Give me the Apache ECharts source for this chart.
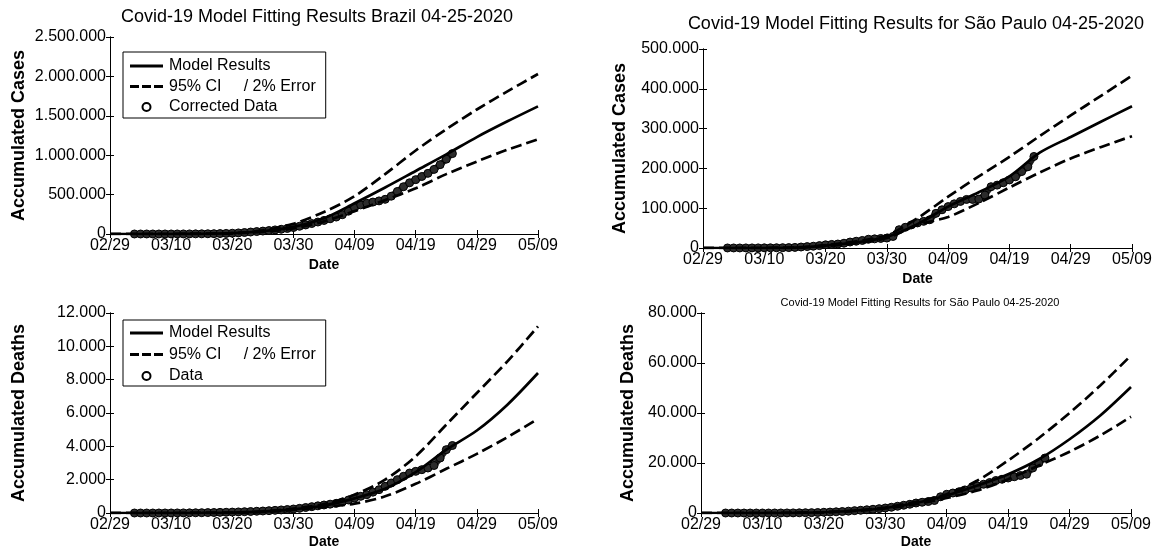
<!DOCTYPE html>
<html>
<head>
<meta charset="utf-8">
<script src="https://cdn.jsdelivr.net/npm/echarts@6/dist/echarts.min.js"></script>
<style>html,body{margin:0;padding:0;background:#fff}#c{width:1157px;height:555px}</style>
</head>
<body>
<div id="c"></div>
<script>
// ---------- DATA ----------
const xTickLabels = ['02/29','03/10','03/20','03/30','04/09','04/19','04/29','05/09']; // days 0,10,...,70 from 02/29
const modelDays = [0,5,10,15,20,25,30,35,40,45,50,55,60,65,70];

// Brazil - accumulated cases
const brCasesModel = [0,0,0,2000,10000,35000,90000,200000,390000,590000,800000,1010000,1230000,1430000,1620000];
const brCasesUpper = [0,0,0,2500,12000,45000,130000,280000,480000,760000,1060000,1330000,1580000,1810000,2030000];
const brCasesLower = [0,0,0,1500,8000,28000,70000,160000,290000,430000,580000,760000,920000,1070000,1200000];
const brCasesDataStart = 4;
const brCasesData = [100,100,200,200,300,400,500,700,900,1200,1600,2200,3000,4000,5500,7500,10000,14000,19000,25000,31000,37000,44000,52000,60000,70000,82000,98000,115000,133000,152000,172000,193000,215000,245000,290000,335000,370000,390000,405000,420000,440000,480000,540000,600000,650000,690000,730000,770000,820000,880000,950000,1020000];

// São Paulo - accumulated cases
const spCasesModel = [0,0,0,1000,6000,14000,28000,60000,104000,140000,180000,240000,279000,318000,356000];
const spCasesUpper = [0,0,0,1200,7000,17000,32000,75000,129000,180000,229000,282000,333000,383000,433000];
const spCasesLower = [0,0,0,800,5000,12000,25000,58000,78000,113000,152000,190000,225000,254000,281000];
const spCasesDataStart = 4;
const spCasesData = [100,100,100,200,200,300,400,500,600,800,1000,1500,2500,3500,4500,6000,8000,9000,10000,12000,15000,17000,19000,22000,23000,24000,25000,29000,46000,52000,58000,63000,67000,71000,87000,96000,104000,111000,117000,122000,122000,123000,133000,154000,158000,164000,171000,179000,192000,204000,230000];

// Brazil - accumulated deaths
const brDeathsModel = [0,0,0,5,20,80,220,450,880,1450,2450,3800,4950,6500,8400];
const brDeathsUpper = [0,0,0,6,25,100,260,540,1100,2000,3400,5300,7200,9100,11200];
const brDeathsLower = [0,0,0,4,15,60,180,360,560,1000,1750,2650,3550,4550,5650];
const brDeathsDataStart = 4;
const brDeathsData = [0,0,0,0,1,2,3,5,7,10,14,18,25,30,38,45,55,65,78,90,105,120,140,160,185,210,240,280,330,380,430,480,530,580,660,780,900,1000,1100,1250,1400,1600,1800,2000,2200,2400,2500,2600,2700,2850,3300,3800,4050];

// São Paulo - accumulated deaths
const spDeathsModel = [0,0,0,50,300,900,2000,4000,7000,11000,15500,21500,29500,39000,50400];
const spDeathsUpper = [0,0,0,60,350,1000,2200,4500,7500,13000,21000,30000,40000,51000,63000];
const spDeathsLower = [0,0,0,40,250,800,1800,3500,6000,9000,13500,19000,24500,31000,38500];
const spDeathsDataStart = 4;
const spDeathsData = [0,0,0,0,0,0,0,0,10,20,30,50,80,110,150,200,300,380,480,600,750,950,1100,1300,1500,1750,2000,2300,2700,3100,3500,4000,4300,4600,5000,6500,7500,8000,8500,9200,10000,10800,11500,12200,13000,13500,14000,14500,15000,15500,18000,20000,22000];

const titles = ['Covid-19 Model Fitting Results Brazil 04-25-2020', 'Covid-19 Model Fitting Results for São Paulo 04-25-2020', 'Covid-19 Model Fitting Results for São Paulo 04-25-2020'];
const yNames = ['Accumulated Cases', 'Accumulated Cases', 'Accumulated Deaths', 'Accumulated Deaths'];
const yMax = [2500000, 500000, 12000, 80000];
const yInterval = [500000, 100000, 2000, 20000];
const nameModel = 'Model Results';
const nameCI = '95% CI     / 2% Error';
const dataNames = ['Corrected Data', 'Corrected Data', 'Data', 'Data'];

// ---------- BUILD ----------
const FONT = '"Liberation Sans", Arial, sans-serif';
const fmtY = v => String(v).replace(/\B(?=(\d{3})+(?!\d))/g, '.');
const pair = (days, vals) => vals.map((v, i) => [days[i], v]);
const dataPairs = (start, vals) => vals.map((v, i) => [start + i, v]);

const panels = [
  {model: brCasesModel, up: brCasesUpper, lo: brCasesLower, start: brCasesDataStart, data: brCasesData},
  {model: spCasesModel, up: spCasesUpper, lo: spCasesLower, start: spCasesDataStart, data: spCasesData},
  {model: brDeathsModel, up: brDeathsUpper, lo: brDeathsLower, start: brDeathsDataStart, data: brDeathsData},
  {model: spDeathsModel, up: spDeathsUpper, lo: spDeathsLower, start: spDeathsDataStart, data: spDeathsData}
];

const grids = [
  {left: 110, top: 37, width: 428, height: 197},
  {left: 703, top: 49, width: 429, height: 199},
  {left: 110, top: 313, width: 428, height: 200},
  {left: 701, top: 313, width: 430, height: 200}
];
const yNameGap = [82, 74, 82, 64];
const dateGap = [24, 24, 22, 22];

const xAxes = [], yAxes = [], series = [];
const axisLine = {show: true, lineStyle: {color: '#000', width: 1}};
panels.forEach((p, g) => {
  xAxes.push({
    gridIndex: g, type: 'value', min: 0, max: 70, interval: 10, position: 'bottom',
    name: 'Date', nameLocation: 'middle', nameGap: dateGap[g],
    nameTextStyle: {fontFamily: FONT, fontWeight: 'bold', fontSize: 14, color: '#000'},
    axisLine: axisLine, axisTick: {inside: true, length: 4, lineStyle: {color: '#000'}},
    axisLabel: {fontFamily: FONT, fontSize: 16, color: '#000', margin: 4, formatter: v => xTickLabels[Math.round(v / 10)]},
    splitLine: {show: false}
  });
  xAxes.push({
    gridIndex: g, type: 'value', min: 0, max: 70, interval: 10, position: 'top',
    axisLine: axisLine, axisTick: {inside: true, length: 4, lineStyle: {color: '#000'}},
    axisLabel: {show: false}, splitLine: {show: false}
  });
  yAxes.push({
    gridIndex: g, type: 'value', min: 0, max: yMax[g], interval: yInterval[g], position: 'left',
    name: yNames[g], nameLocation: 'middle', nameGap: yNameGap[g],
    nameTextStyle: {fontFamily: FONT, fontWeight: 'bold', fontSize: 18, color: '#000'},
    axisLine: axisLine, axisTick: {show: true, inside: true, length: 4, lineStyle: {color: '#000'}},
    axisLabel: {fontFamily: FONT, fontSize: 16, color: '#000', margin: 4, formatter: fmtY},
    splitLine: {show: false}
  });
  yAxes.push({
    gridIndex: g, type: 'value', min: 0, max: yMax[g], interval: yInterval[g], position: 'right',
    axisLine: axisLine, axisTick: {show: true, inside: true, length: 4, lineStyle: {color: '#000'}},
    axisLabel: {show: false}, splitLine: {show: false}
  });
  const xi = g * 2, yi = g * 2;
  series.push({
    name: dataNames[g], type: 'line', xAxisIndex: xi, yAxisIndex: yi,
    symbol: 'circle', symbolSize: 8, showAllSymbol: true,
    lineStyle: {color: '#1e1e1e', width: 6},
    itemStyle: {color: '#2b2b2b', borderColor: '#000', borderWidth: 1},
    data: dataPairs(p.start, p.data), silent: true, z: 2
  });
  series.push({
    name: nameModel, type: 'line', xAxisIndex: xi, yAxisIndex: yi, symbol: 'none',
    smooth: 0.3,
    itemStyle: {color: '#000'},
    lineStyle: {color: '#000', width: 2.7, type: 'solid'},
    data: pair(modelDays, p.model), silent: true, z: 3
  });
  [p.up, p.lo].forEach(arr => series.push({
    name: nameCI, type: 'line', xAxisIndex: xi, yAxisIndex: yi, symbol: 'none',
    smooth: 0.3,
    itemStyle: {color: '#000'},
    lineStyle: {color: '#000', width: 2.7, type: [11, 5]},
    data: pair(modelDays, arr), silent: true, z: 3
  }));
});

const solidIcon = 'path://M0,0h33v3h-33z';
const dashIcon = 'path://M0,0h9v3h-9z M12,0h9v3h-9z M24,0h9v3h-9z';
const legendBase = {
  orient: 'vertical', backgroundColor: '#fff', borderColor: '#000', borderWidth: 1,
  itemWidth: 33, itemHeight: 8, symbolKeepAspect: true,
  textStyle: {fontFamily: FONT, fontSize: 16, color: '#000', padding: [0, 0, 0, 1]},
  selectedMode: false, z: 10
};
const legendData = dn => [
  {name: nameModel, icon: solidIcon, itemStyle: {color: '#000'}},
  {name: nameCI, icon: dashIcon, itemStyle: {color: '#000'}},
  {name: dn, icon: 'emptyCircle', itemStyle: {color: '#000', borderColor: '#000', borderWidth: 1}}
];

const option = {
  animation: false,
  backgroundColor: '#fff',
  title: [
    {text: titles[0], left: 312, top: 3, textAlign: 'center', textStyle: {fontFamily: FONT, fontSize: 18, fontWeight: 'normal', color: '#000'}},
    {text: titles[1], left: 911, top: 10, textAlign: 'center', textStyle: {fontFamily: FONT, fontSize: 18, fontWeight: 'normal', color: '#000'}},
    {text: titles[2], left: 915, top: 292, textAlign: 'center', textStyle: {fontFamily: FONT, fontSize: 11, fontWeight: 'normal', color: '#000'}}
  ],
  grid: grids,
  xAxis: xAxes,
  yAxis: yAxes,
  legend: [
    Object.assign({}, legendBase, {left: 123, top: 52, padding: [6, 10, 3, 7], itemGap: 4.5, data: legendData(dataNames[0])}),
    Object.assign({}, legendBase, {left: 123, top: 320, padding: [5, 10, 2, 7], itemGap: 5.5, data: legendData(dataNames[2])})
  ],
  series: series
};

const chart = echarts.init(document.getElementById('c'), null, {renderer: 'canvas'});
chart.setOption(option);
</script>
</body>
</html>
